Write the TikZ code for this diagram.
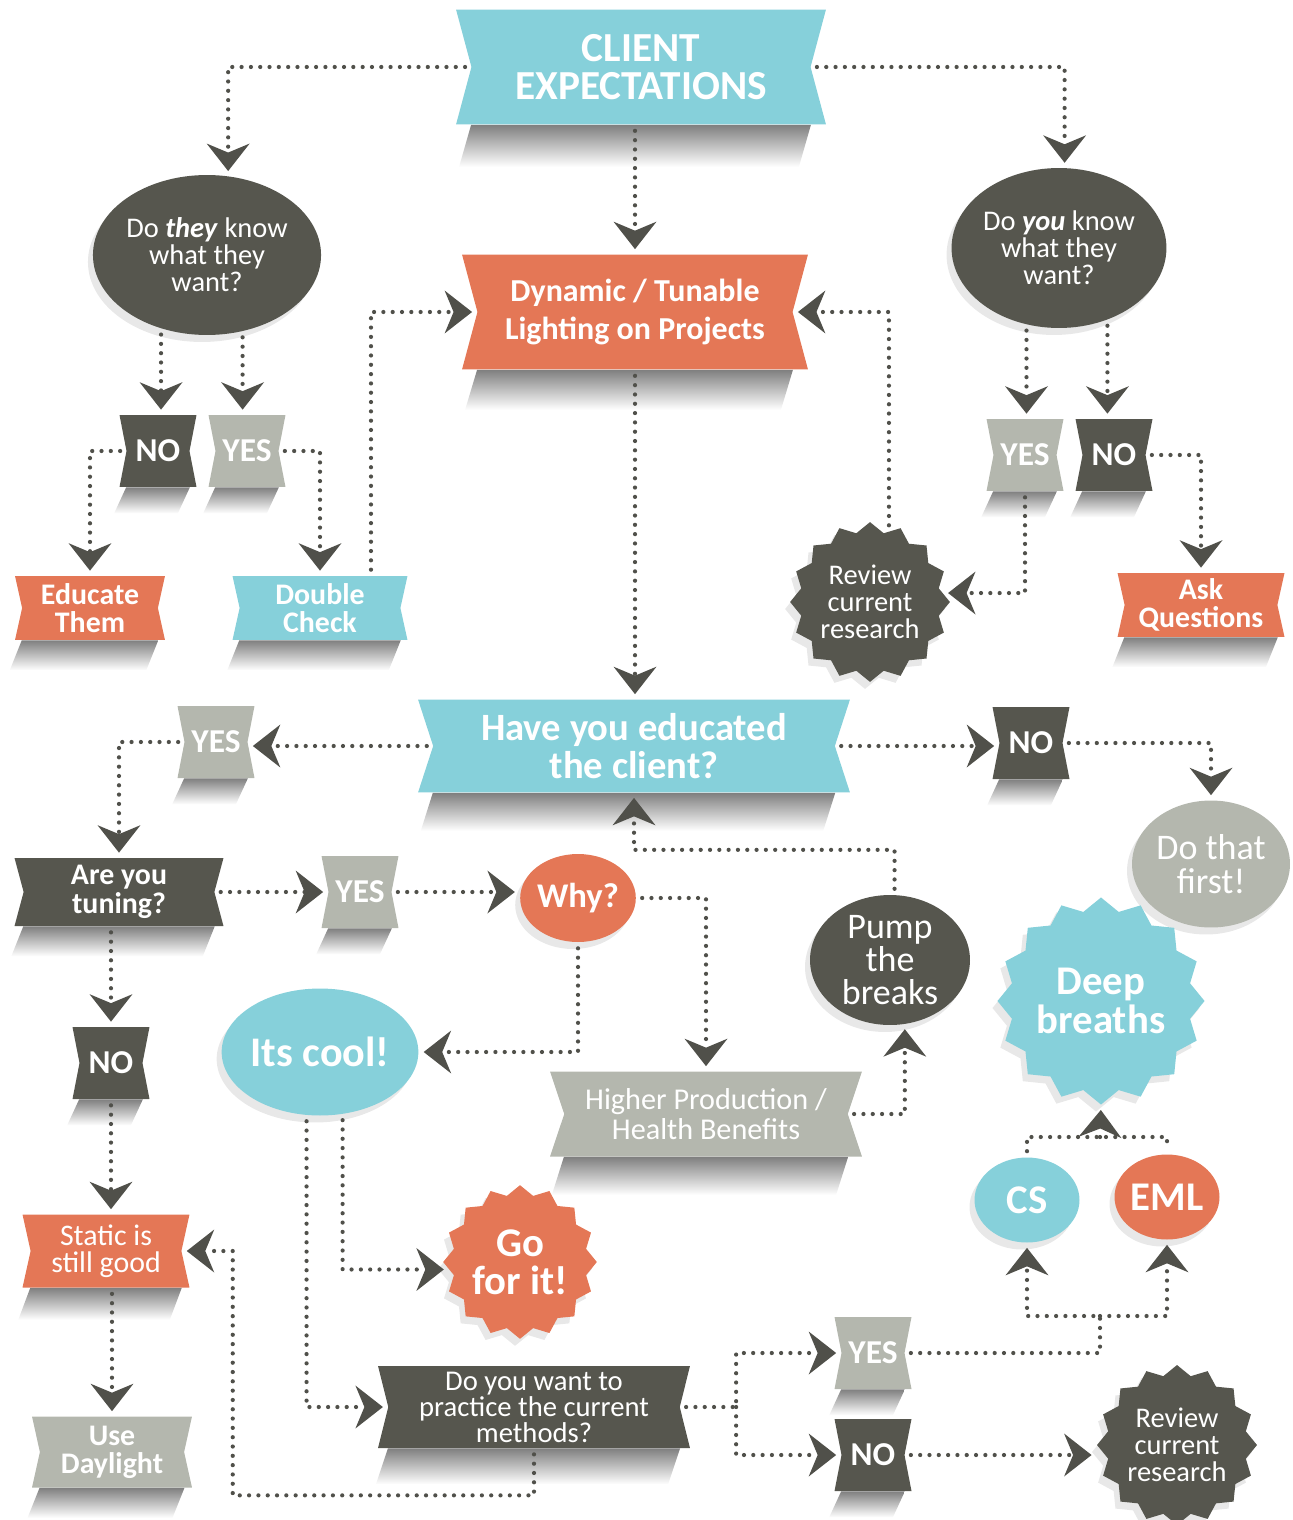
\documentclass[tikz,border=0pt]{standalone}
\usepackage{fontspec}
\setmainfont{Carlito}
\usetikzlibrary{shapes.symbols,shapes.geometric,arrows.meta,calc}
\definecolor{cteal}{RGB}{134,208,218}
\definecolor{corange}{RGB}{228,119,86}
\definecolor{cdark}{RGB}{86,86,78}
\definecolor{cgray}{RGB}{180,183,174}
\definecolor{cdot}{RGB}{80,80,74}

\begin{document}
\begin{tikzpicture}[x=0.02cm, y=0.02cm]
    \tikzstyle{every node}+=[inner sep=0pt, text=white, align=center]
    \tikzstyle{ribbon}=[signal, signal to=nowhere, signal from=west and east, signal pointer angle=152]
    \tikzstyle{tag}=[ribbon, minimum width=1.54cm, minimum height=1.44cm, signal pointer angle=158, font=\bfseries\fontsize{19}{19}\selectfont]
    \tikzstyle{blob}=[ellipse, preaction={fill=black!9, transform canvas={shift={(-0.1cm,-0.14cm)}}}]
    \tikzstyle{burst}=[star, star points=16, star point ratio=1.14, preaction={fill=black!9, transform canvas={shift={(-0.1cm,-0.14cm)}}}]
    \tikzstyle{bx}=[font=\bfseries\fontsize{17}{15.8}\selectfont]
    \tikzstyle{rg}=[font=\fontsize{16.2}{15.4}\selectfont]
    \tikzstyle{bg}=[font=\bfseries\fontsize{23.2}{21.8}\selectfont]
    \tikzstyle{link}=[draw=cdot, line width=2.4pt, line cap=round, dash pattern=on 0pt off 5.3pt, shorten <=0.12cm, shorten >=0.1cm, -{Stealth[length=0.55cm, width=0.86cm, inset=0.18cm, line width=0pt]}]
    \tikzstyle{dotline}=[link, -]
    \useasboundingbox (0,0) rectangle (1293,-1520);
    % top part
    \node[ribbon, fill=cteal, minimum width=7.4cm, minimum height=2.3cm, signal pointer angle=150, font=\bfseries\fontsize{23.5}{21.5}\selectfont] (ce) at (641,-67) {CLIENT\\EXPECTATIONS};
    \node[ribbon, fill=corange, minimum width=6.92cm, minimum height=2.3cm, signal pointer angle=150, font=\bfseries\fontsize{18.2}{22}\selectfont] (dt) at (635,-312) {Dynamic / Tunable\\Lighting on Projects};
    \node[blob, fill=cdark, minimum width=3.94cm, minimum height=3.2cm, rg] (q1) at (207,-255) {Do \textbf{\textit{they}} know\\what they\\want?};
    \node[blob, fill=cdark, minimum width=3.96cm, minimum height=3.2cm, rg] (q2) at (1059,-248) {Do \textbf{\textit{you}} know\\what they\\want?};
    \node[tag, fill=cdark] (no1) at (158,-451) {NO};
    \node[tag, fill=cgray] (yes1) at (247,-451) {YES};
    \node[tag, fill=cgray] (yes2) at (1025,-455) {YES};
    \node[tag, fill=cdark] (no2) at (1114,-455) {NO};
    \node[ribbon, fill=corange, minimum width=3cm, minimum height=1.28cm, signal pointer angle=155, bx] (edu) at (90,-608) {Educate\\Them};
    \node[ribbon, fill=cteal, minimum width=3.5cm, minimum height=1.28cm, signal pointer angle=155, bx] (dc) at (320,-608) {Double\\Check};
    \node[ribbon, fill=corange, minimum width=3.34cm, minimum height=1.28cm, signal pointer angle=155, bx] (aq) at (1201,-605) {Ask\\Questions};
    \node[burst, fill=cdark, minimum size=3.12cm, rg] (rcr1) at (870,-602) {Review\\current\\research};
    % middle part
    \node[ribbon, fill=cteal, minimum width=8.64cm, minimum height=1.86cm, signal pointer angle=144, font=\bfseries\fontsize{22}{22}\selectfont] (hye) at (634,-746) {Have you educated\\the client?};
    \node[tag, fill=cgray] (yes3) at (216,-742) {YES};
    \node[tag, fill=cdark] (no3) at (1031,-743) {NO};
    \node[ribbon, fill=cdark, minimum width=4.18cm, minimum height=1.36cm, signal pointer angle=150, font=\bfseries\fontsize{17}{16.2}\selectfont] (ayt) at (119,-892) {Are you\\tuning?};
    \node[tag, fill=cgray] (yes4) at (360,-892) {YES};
    \node[blob, fill=corange, minimum width=2.18cm, minimum height=1.76cm, font=\bfseries\fontsize{19.7}{19.7}\selectfont] (why) at (578,-898) {Why?};
    \node[blob, fill=cgray, minimum width=3.16cm, minimum height=2.54cm, font=\fontsize{20.5}{19.5}\selectfont] (dtf) at (1211,-864) {Do that\\first!};
    \node[blob, fill=cdark, minimum width=3.2cm, minimum height=2.6cm, font=\fontsize{20.5}{19}\selectfont] (pump) at (890,-960) {Pump\\the\\breaks};
    \node[burst, fill=cteal, minimum size=3.44cm, bg] (db) at (1101,-1001) {Deep\\breaths};
    \node[blob, fill=cteal, minimum width=3.1cm, minimum height=2.54cm, font=\bfseries\fontsize{24}{24}\selectfont] (cool) at (320,-1052) {Its cool!};
    \node[tag, fill=cdark] (no4) at (111,-1063) {NO};
    \node[ribbon, fill=cgray, minimum width=6.24cm, minimum height=1.7cm, signal pointer angle=143, font=\fontsize{17.2}{16.8}\selectfont] (hp) at (706,-1114) {Higher Production /\\Health Benefits};
    % bottom part
    \node[blob, fill=cteal, minimum width=2.1cm, minimum height=1.7cm, bg] (cs) at (1027,-1200) {CS};
    \node[blob, fill=corange, minimum width=2.1cm, minimum height=1.7cm, bg] (eml) at (1167,-1197) {EML};
    \node[ribbon, fill=corange, minimum width=3.34cm, minimum height=1.46cm, signal pointer angle=155, font=\fontsize{17}{15.6}\selectfont] (sig) at (106,-1251) {Static is\\still good};
    \node[burst, fill=corange, minimum size=2.98cm, bg] (go) at (520,-1262) {Go\\for it!};
    \node[tag, fill=cgray] (yes5) at (873,-1353) {YES};
    \node[ribbon, fill=cdark, minimum width=6.24cm, minimum height=1.64cm, font=\fontsize{16.3}{14.8}\selectfont] (dyw) at (534,-1407) {Do you want to\\practice the current\\methods?};
    \node[tag, fill=cdark] (no5) at (873,-1455) {NO};
    \node[ribbon, fill=cgray, minimum width=3.2cm, minimum height=1.42cm, signal pointer angle=155, bx] (ud) at (112,-1452) {Use\\Daylight};
    \node[burst, fill=cdark, minimum size=3.2cm, rg] (rcr2) at (1177,-1445) {Review\\current\\research};
    % shadows under the ribbons
    \foreach \n/\d in {ce/42, dt/40, edu/30, dc/30, aq/30, hye/38, ayt/30, hp/38, sig/32, ud/30, dyw/36, no1/26, yes1/26, yes2/26, no2/26, yes3/26, no3/26, yes4/26, no4/26, yes5/26, no5/26}
        \shade[top color=black!50, bottom color=white] (\n.west |- \n.south) -- (\n.east |- \n.south) -- ($(\n.east |- \n.south)+(-12,-\d)$) -- ($(\n.west |- \n.south)+(-12,-\d)$) -- cycle;
    % connectors
    \draw[link] (ce.west) -| (q1.75);
    \draw[link] (ce.east) -| (q2.86);
    \draw[link] (ce.south -| dt.north) -- (dt.north);
    \draw[link] (q1.238) -- (q1.238 |- no1.north);
    \draw[link] (q1.295) -- (q1.295 |- yes1.north);
    \draw[link] (no1.west) -| (edu.north);
    \draw[link] (yes1.east) -| (dc.north);
    \draw[link] ([xshift=1.02cm]dc.north) |- (dt.west);
    \draw[link] (dt.south) -- (dt.south |- hye.north);
    \draw[link] (q2.247) -- (q2.247 |- yes2.north);
    \draw[link] (q2.304) -- (q2.304 |- no2.north);
    \draw[link] (no2.east) -| (aq.north);
    \draw[link] (yes2.south) |- (rcr1.7);
    \draw[link] (rcr1.75) |- (dt.east);
    \draw[link] (hye.west) -- (hye.west -| yes3.east);
    \draw[link] (yes3.west) -| (ayt.north);
    \draw[link] (hye.east) -- (hye.east -| no3.west);
    \draw[link] (no3.east) -| (dtf.north);
    \draw[link] (ayt.east) -- (ayt.east -| yes4.west);
    \draw[link] (yes4.east) -- (yes4.east -| why.west);
    \draw[link] (why.east) -| (hp.north);
    \draw[link] (why.south) |- (cool.east);
    \draw[link] (ayt.south -| no4.north) -- (no4.north);
    \draw[link] (no4.south) -- (no4.south |- sig.north);
    \draw[link] (ud.north |- sig.south) -- (ud.north);
    \draw[link] (hp.east) -| (pump.283);
    \draw[link] (pump.86) |- ($(hye.south)+(0,-57)$) -- (hye.south);
    \draw[link] (cool.290) |- (go.186);
    \draw[link] (cool.258) |- (dyw.west);
    \draw[link] (dyw.south) -- ($(dyw.south)+(0,-47)$) -| ($(sig.east)+(51,0)$) -- (sig.east);
    \coordinate (j1) at ($(dyw.east)+(56,0)$);
    \draw[link] (dyw.east) -- (j1) |- (yes5.west);
    \draw[link, shorten <=0pt] (j1) |- (no5.west);
    \coordinate (j2) at (1100,-1316);
    \draw[link] (yes5.east) -| (j2) -| (cs.south);
    \draw[link, shorten <=0pt] (j2) -| (eml.south);
    \draw[link] (no5.east) -- (no5.east -| rcr2.west);
    \coordinate (j3) at (1100,-1137);
    \draw[dotline] (cs.north) |- (j3) -| (eml.north);
    \draw[link, shorten <=0pt] (j3) -- (db.south);
\end{tikzpicture}
\end{document}
